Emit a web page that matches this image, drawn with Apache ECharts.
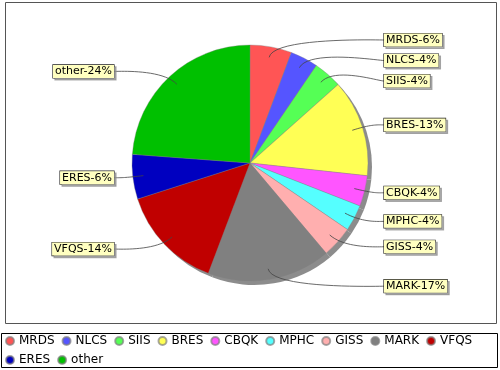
<!DOCTYPE html>
<html><head><meta charset="utf-8">
<script src="https://cdn.jsdelivr.net/npm/echarts@6/dist/echarts.min.js"></script>
<style>html,body{margin:0;padding:0;background:#fff}#c{width:500px;height:370px}</style>
</head><body><div id="c"></div>
<script>
const categories = ['MRDS','NLCS','SIIS','BRES','CBQK','MPHC','GISS','MARK','VFQS','ERES','other'];
const values = [5.7, 3.8, 3.9, 13.3, 4.2, 3.6, 4.3, 16.9, 14.3, 6.1, 23.8];
const colors = ['#FF5555','#5555FF','#55FF55','#FFFF55','#FF55FF','#55FFFF','#FFAFAF','#808080','#C00000','#0000C0','#00C000'];

const CX = 250, CY = 163, R = 118, LR = 125, GAP = 20.5;
const total = values.reduce((a, b) => a + b, 0);
const cum = []; let acc = 0; values.forEach(v => { cum.push(acc); acc += v; });
const midAngle = i => (cum[i] + values[i] / 2) / total * 2 * Math.PI;

// label vertical placement: on an ellipse, pushed down where boxes would overlap
const labelY = (function () {
  const ys = values.map((v, i) => CY - LR * Math.cos(midAngle(i)));
  [true, false].forEach(side => {
    const idx = ys.map((y, i) => i).filter(i => (Math.sin(midAngle(i)) >= 0) === side).sort((p, q) => ys[p] - ys[q]);
    for (let k = 1; k < idx.length; k++) {
      if (ys[idx[k]] - ys[idx[k - 1]] < GAP) ys[idx[k]] = ys[idx[k - 1]] + GAP;
    }
  });
  return ys;
})();

function bez(p0, p1, p2, p3, n) {
  const pts = [];
  for (let k = 0; k <= n; k++) {
    const t = k / n, u = 1 - t;
    pts.push([
      u*u*u*p0[0] + 3*u*u*t*p1[0] + 3*u*t*t*p2[0] + t*t*t*p3[0],
      u*u*u*p0[1] + 3*u*u*t*p1[1] + 3*u*t*t*p2[1] + t*t*t*p3[1]
    ]);
  }
  return pts;
}

const pieData = categories.map((n, i) => ({ name: n, value: values[i] }));
const chart = echarts.init(document.getElementById('c'), null, { renderer: 'canvas' });
chart.setOption({
  animation: false,
  backgroundColor: '#fff',
  color: colors,
  graphic: [
    { type: 'rect', shape: { x: 5.5, y: 2.5, width: 491, height: 321 }, style: { fill: 'none', stroke: '#555', lineWidth: 1 }, silent: true, z: 0 },
    { type: 'rect', shape: { x: 1.5, y: 333.5, width: 496, height: 34 }, style: { fill: 'none', stroke: '#000', lineWidth: 1 }, silent: true, z: 0 }
  ],
  legend: {
    data: categories, left: 5, top: 335, width: 490, padding: 0,
    itemWidth: 8, itemHeight: 8, itemGap: 7, icon: 'circle', selectedMode: false,
    textStyle: { fontFamily: 'DejaVu Sans', fontSize: 12, color: '#000', lineHeight: 12 }
  },
  series: [
    {
      type: 'pie', center: [CX, CY], radius: R, startAngle: 90, clockwise: true,
      z: 3, data: pieData, silent: true,
      itemStyle: { borderColor: 'rgba(128,128,128,0.7)', borderWidth: 0.5 },
      emphasis: { disabled: true },
      label: { show: false }, labelLine: { show: false }
    },
    {
      type: 'pie', center: [CX, CY], radius: R, startAngle: 90, clockwise: true,
      z: 5, data: pieData, silent: true, legendHoverLink: false,
      itemStyle: { color: 'rgba(0,0,0,0)', borderWidth: 0 },
      emphasis: { disabled: true },
      label: {
        show: true, position: 'outside',
        formatter: p => p.name + '-' + Math.round(p.percent) + '%',
        fontFamily: 'DejaVu Sans', fontSize: 11, color: '#000',
        backgroundColor: '#FFFFC0', borderColor: '#222', borderWidth: 0.6,
        padding: [1, 2, 1, 2],
        shadowColor: 'rgba(140,140,140,0.7)', shadowOffsetX: 2, shadowOffsetY: 2, shadowBlur: 0
      },
      labelLine: { show: true, showAbove: true, length: 7, length2: 10, smooth: false, lineStyle: { color: '#444', width: 0.8 } },
      labelLayout: function (p) {
        const i = p.dataIndex;
        const a = midAngle(i);
        const s = Math.sin(a), c = Math.cos(a);
        const right = s >= 0;
        const ly = labelY[i];
        const link = [CX + R * 0.91 * s, CY - R * 0.91 * c];
        const elbow = [CX + (R + 10) * s, CY - (R + 10) * c];
        const tx = right ? CX + R + 16 : CX - R - 18;
        const ax = right ? tx - 6 : tx + 6;
        return {
          x: tx, y: ly, align: right ? 'left' : 'right', verticalAlign: 'middle',
          labelLinePoints: bez(link, elbow, [ax, ly], [tx, ly], 20)
        };
      }
    },
    {
      type: 'pie', center: [CX + 4, CY + 4], radius: R, startAngle: 90, clockwise: true,
      z: 1, silent: true, data: pieData, legendHoverLink: false,
      itemStyle: { color: '#8c8c8c', borderWidth: 0 },
      label: { show: false }, labelLine: { show: false }, emphasis: { disabled: true }
    }
  ]
});
</script></body></html>
